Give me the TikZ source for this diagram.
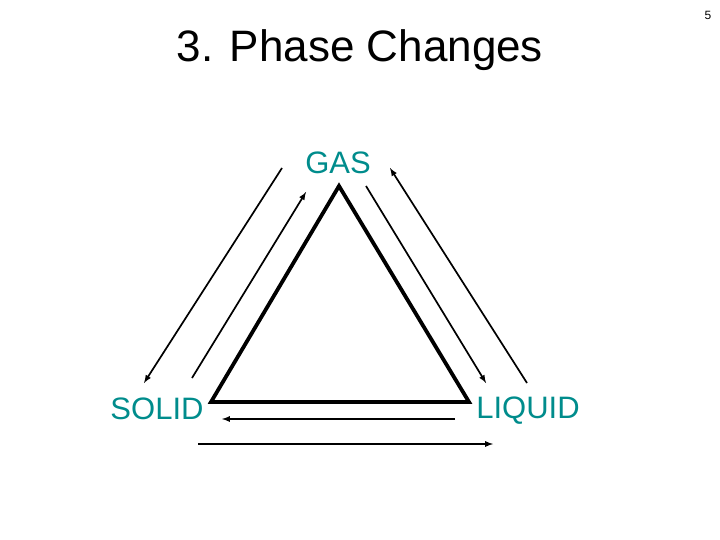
\documentclass[tikz,border=0pt]{standalone}
\usepackage{fontspec}
\setmainfont{Liberation Sans}
\definecolor{teal1}{RGB}{0,140,140}
\begin{document}
\begin{tikzpicture}[x=1pt,y=-1pt,
  lbl/.style={text=teal1,font=\fontsize{31}{36}\selectfont,inner sep=0pt},
  arr/.style={-latex,line width=1.7pt},
  tri/.style={line width=3.8pt,line join=miter}]
\useasboundingbox (0,0) rectangle (720,540);
\node[font=\fontsize{44}{50}\selectfont,inner sep=0pt] (title) at (360,50) {3. Phase Changes};
\node[font=\fontsize{12}{14}\selectfont,inner sep=0pt] (pg) at (708,15) {5};
\node[lbl] (gas) at (338,163) {GAS};
\node[lbl] (solid) at (157,409) {SOLID};
\node[lbl] (liquid) at (528,411) {LIQUID};
\coordinate (A) at (339,186);
\coordinate (B) at (211,402);
\coordinate (C) at (469,402);
\draw[tri] (A) -- (B) -- (C) -- cycle;
\coordinate (lo1) at (282,168); \coordinate (lo2) at (144,383);
\coordinate (li1) at (192,378); \coordinate (li2) at (306,192);
\coordinate (ri1) at (366,186); \coordinate (ri2) at (486,383);
\coordinate (ro1) at (527,383); \coordinate (ro2) at (390,168);
\coordinate (bu1) at (455,419); \coordinate (bu2) at (222,419);
\coordinate (bl1) at (198,444); \coordinate (bl2) at (493,444);
\draw[arr] (lo1) -- (lo2);
\draw[arr] (li1) -- (li2);
\draw[arr] (ri1) -- (ri2);
\draw[arr] (ro1) -- (ro2);
\draw[arr] (bu1) -- (bu2);
\draw[arr] (bl1) -- (bl2);
\end{tikzpicture}
\end{document}
